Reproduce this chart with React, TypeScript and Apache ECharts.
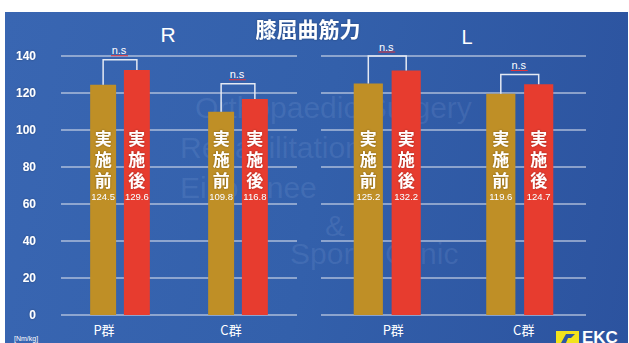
import React, { useEffect, useRef } from 'react';
import * as echarts from 'echarts';

// ---- data ----
const categories = ['P群', 'C群'];
const sideTitles = ['R', 'L'];
const chartTitle = '膝屈曲筋力';
const rBefore = [124.5, 109.8];
const rAfter = [132.4, 116.8];
const lBefore = [125.2, 119.6];
const lAfter = [132.2, 124.7];
const rBeforeLabels = ['124.5', '109.8'];
const rAfterLabels = ['129.6', '116.8'];
const lBeforeLabels = ['125.2', '119.6'];
const lAfterLabels = ['132.2', '124.7'];
const rBracket = [138, 125];
const lBracket = [140, 130];
const sigText = 'n.s';
const beforeText = '実施前';
const afterText = '実施後';
const yMin = 0;
const yMax = 140;
const yStep = 20;
const unitLabel = '[Nm/kg]';
const watermarkLines = ['Orthopaedic Surgery', 'Rehabilitation', 'Eiko Knee', '&', 'Sports Clinic'];

const CJK = '"Noto Sans CJK JP", "Noto Sans", sans-serif';
const LAT = '"Liberation Sans", Arial, sans-serif';
const GOLD = '#bf8f26';
const RED = '#e73c2f';
const GRIDLINE = 'rgba(205,214,232,0.78)';

const pad = (s: number) => (s < 0 ? [0, -2 * s, 0, 0] : [0, 0, 0, 2 * s]);

const xAxisFor = (gridIndex: number, shifts: number[]) => ({
  type: 'category',
  gridIndex,
  data: categories,
  axisLine: { show: false },
  axisTick: { show: false },
  axisLabel: {
    margin: 8,
    color: '#fff',
    fontSize: 13,
    fontFamily: CJK,
    formatter: (v: string, i: number) => `{s${i}|${v}}`,
    rich: {
      s0: { padding: pad(shifts[0]), fontSize: 13, color: '#fff', fontFamily: CJK },
      s1: { padding: pad(shifts[1]), fontSize: 13, color: '#fff', fontFamily: CJK },
    },
  },
});

const yAxisFor = (gridIndex: number, showLabels: boolean) => ({
  type: 'value',
  gridIndex,
  min: yMin,
  max: yMax,
  interval: yStep,
  axisLine: { show: false },
  axisTick: { show: false },
  axisLabel: {
    show: showLabels,
    margin: 25,
    color: '#fff',
    fontSize: 12,
    fontWeight: 'bold',
    fontFamily: LAT,
    textShadowColor: 'rgba(0,0,0,0.3)',
    textShadowBlur: 2,
  },
  splitLine: { show: true, lineStyle: { color: GRIDLINE, width: 1.5 } },
});

const barSeries = (data: number[], labels: string[], color: string, text: string, idx: number) => ({
  type: 'bar',
  xAxisIndex: idx,
  yAxisIndex: idx,
  data,
  barWidth: '22%',
  barGap: '30%',
  itemStyle: { color },
  label: {
    show: true,
    position: 'insideBottom',
    distance: 113,
    formatter: (p: any) =>
      text.split('').map((c) => `{k|${c}}`).join('\n') + `\n{v|${labels[p.dataIndex]}}`,
    rich: {
      k: {
        fontSize: 17,
        fontWeight: 'bold',
        lineHeight: 21,
        color: '#fff',
        fontFamily: CJK,
        textShadowColor: 'rgba(0,0,0,0.35)',
        textShadowBlur: 2,
      },
      v: {
        fontSize: 9.5,
        lineHeight: 12,
        color: '#fff',
        fontFamily: LAT,
        textShadowColor: 'rgba(0,0,0,0.3)',
        textShadowBlur: 1,
      },
    },
  },
});

const bracketSeries = (before: number[], after: number[], level: number[], idx: number) => ({
  type: 'custom',
  xAxisIndex: idx,
  yAxisIndex: idx,
  z: 5,
  clip: false,
  data: categories.map((_, i) => [i, before[i], after[i], level[i]]),
  renderItem: (_params: any, api: any) => {
    const i = api.value(0);
    const band = api.size([1, 0])[0];
    const c = api.coord([i, 0]);
    const off = band * 0.22 * 1.3 / 2;
    const x1 = c[0] - off;
    const x2 = c[0] + off;
    const y1 = api.coord([i, api.value(1)])[1];
    const y2 = api.coord([i, api.value(2)])[1];
    const yt = api.coord([i, api.value(3)])[1];
    const xm = (x1 + x2) / 2;
    return {
      type: 'group',
      children: [
        {
          type: 'polyline',
          shape: { points: [[x1, y1], [x1, yt], [x2, yt], [x2, y2]] },
          style: { stroke: '#e4e9f3', lineWidth: 1.5, fill: 'none' },
        },
        {
          type: 'text',
          style: {
            text: sigText,
            x: xm - 1,
            y: yt - 4,
            align: 'center',
            verticalAlign: 'bottom',
            fill: '#fff',
            fontSize: 11,
            fontFamily: LAT,
          },
        },
        {
          type: 'line',
          shape: { x1: xm - 9, y1: yt - 4, x2: xm + 8, y2: yt - 4 },
          style: { stroke: '#e0343c', lineWidth: 1 },
        },
      ],
    };
  },
});

const option: any = {
  animation: false,
  grid: [
    { left: 61, width: 236, top: 56, bottom: 28 },
    { left: 321, width: 265, top: 56, bottom: 28 },
  ],
  xAxis: [xAxisFor(0, [-16, -7]), xAxisFor(1, [6, 4])],
  yAxis: [yAxisFor(0, true), yAxisFor(1, false)],
  series: [
    barSeries(rBefore, rBeforeLabels, GOLD, beforeText, 0),
    barSeries(rAfter, rAfterLabels, RED, afterText, 0),
    barSeries(lBefore, lBeforeLabels, GOLD, beforeText, 1),
    barSeries(lAfter, lAfterLabels, RED, afterText, 1),
    bracketSeries(rBefore, rAfter, rBracket, 0),
    bracketSeries(lBefore, lAfter, lBracket, 1),
  ],
  graphic: [
    // watermark
    {
      type: 'group',
      z: -10,
      silent: true,
      children: [
        { type: 'text', x: 195, y: 92, style: { text: watermarkLines[0], fontSize: 30, fontFamily: LAT, fill: 'rgba(170,195,240,0.13)' } },
        { type: 'text', x: 180, y: 132, style: { text: watermarkLines[1], fontSize: 30, fontFamily: LAT, fill: 'rgba(170,195,240,0.13)' } },
        { type: 'text', x: 180, y: 172, style: { text: watermarkLines[2], fontSize: 30, fontFamily: LAT, fill: 'rgba(170,195,240,0.13)' } },
        { type: 'text', x: 325, y: 210, style: { text: watermarkLines[3], fontSize: 30, fontFamily: LAT, fill: 'rgba(170,195,240,0.13)' } },
        { type: 'text', x: 290, y: 238, style: { text: watermarkLines[4], fontSize: 30, fontFamily: LAT, fill: 'rgba(170,195,240,0.13)' } },
      ],
    },
    {
      type: 'text',
      x: 308,
      y: 28,
      style: {
        text: chartTitle,
        align: 'center',
        verticalAlign: 'middle',
        fill: '#fff',
        fontSize: 21,
        fontWeight: 'bold',
        fontFamily: CJK,
        textShadowColor: 'rgba(0,0,0,0.3)',
        textShadowBlur: 2,
      },
    },
    {
      type: 'text',
      x: 168,
      y: 34,
      style: { text: sideTitles[0], align: 'center', verticalAlign: 'middle', fill: '#fff', fontSize: 21, fontFamily: LAT },
    },
    {
      type: 'text',
      x: 467,
      y: 37,
      style: { text: sideTitles[1], align: 'center', verticalAlign: 'middle', fill: '#fff', fontSize: 20, fontFamily: LAT },
    },
    {
      type: 'text',
      x: 14,
      y: 335,
      style: { text: unitLabel, fill: '#fff', fontSize: 7, fontFamily: LAT },
    },
    // logo
    { type: 'rect', shape: { x: 556, y: 331, width: 23, height: 14 }, style: { fill: '#f2e31c' } },
    {
      type: 'polygon',
      shape: { points: [[561, 343], [566, 334], [575, 334], [571, 338], [568, 338], [566, 343]] },
      style: { fill: '#2f56a3' },
    },
    {
      type: 'text',
      x: 582,
      y: 329,
      style: { text: 'EKC', fill: '#fff', fontSize: 17, fontWeight: 'bold', fontFamily: LAT },
    },
  ],
};

export default function App() {
  const ref = useRef<HTMLDivElement>(null);
  useEffect(() => {
    document.body.style.margin = '0';
    const chart = echarts.init(ref.current as HTMLDivElement, null, { renderer: 'svg', width: 629, height: 343 });
    chart.setOption(option);
    return () => chart.dispose();
  }, []);
  return (
    <div style={{ position: 'relative', width: 629, height: 343, background: '#fff', overflow: 'hidden' }}>
      <div
        style={{
          position: 'absolute',
          left: 5,
          top: 12,
          width: 623,
          height: 331,
          background: 'linear-gradient(100deg, #3966b2 0%, #3360ab 50%, #2c539f 100%)',
        }}
      />
      <div ref={ref} style={{ position: 'absolute', left: 0, top: 0, width: 629, height: 343 }} />
    </div>
  );
}
